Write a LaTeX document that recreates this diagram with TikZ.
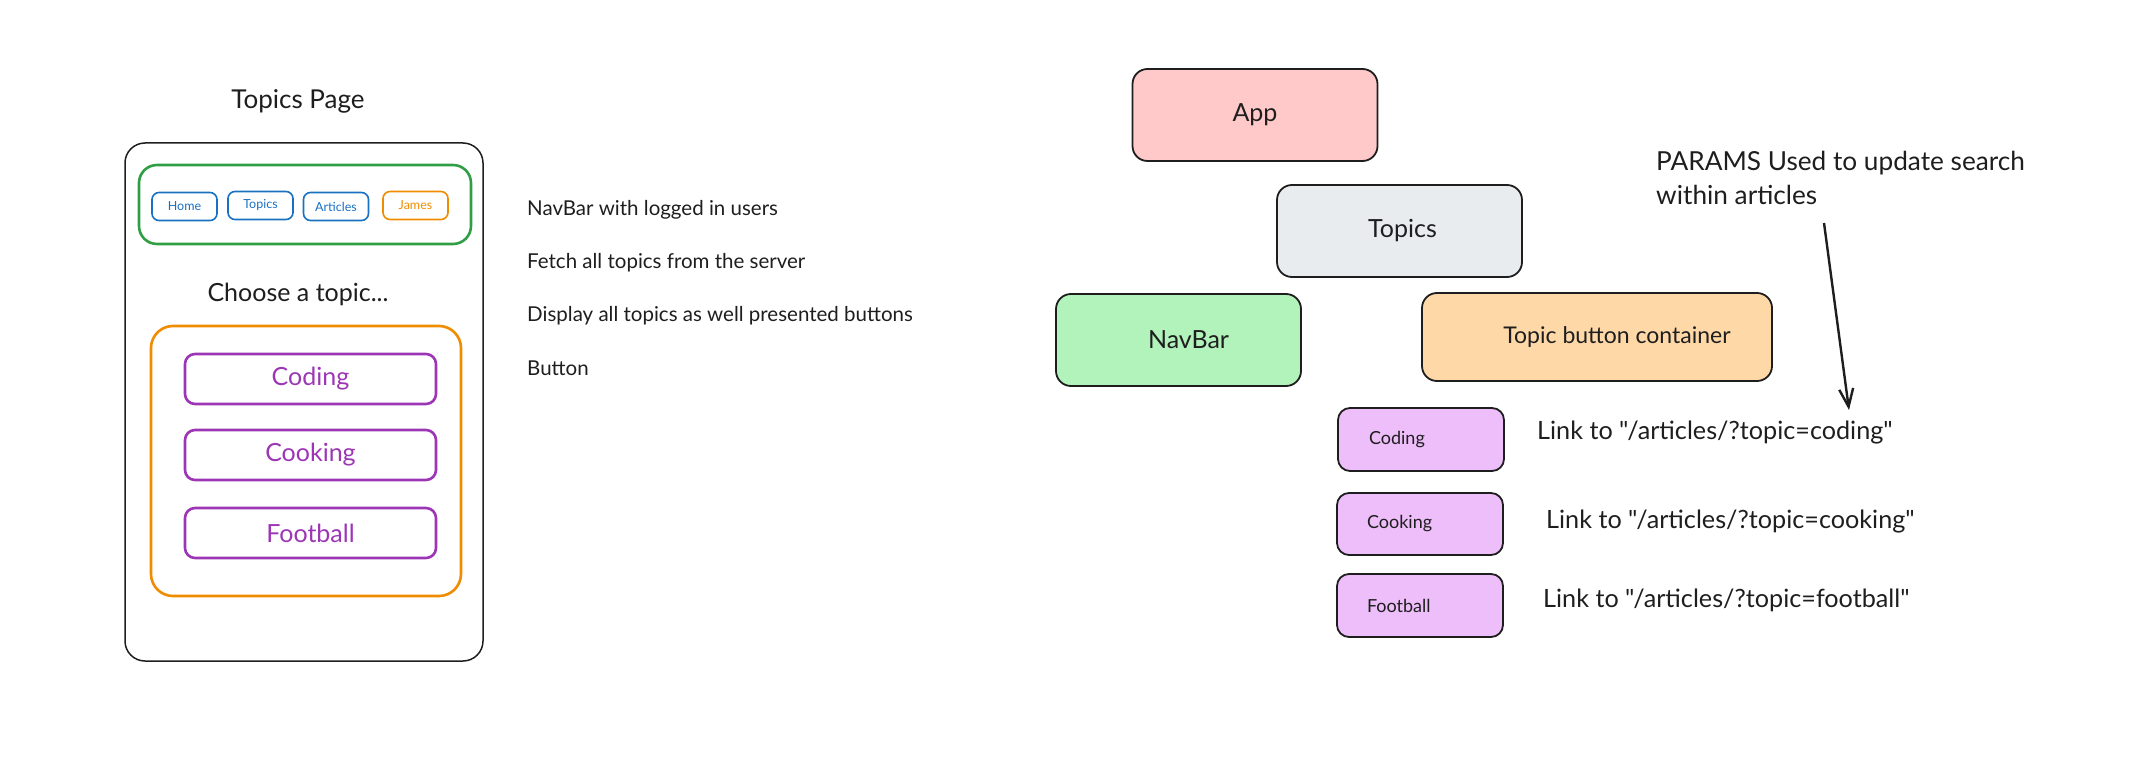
\documentclass[tikz,border=0pt]{standalone}
\usepackage{fontspec}
\setmainfont{Lato}[Ligatures=TeXOff]
\usetikzlibrary{arrows.meta}
\definecolor{ink}{HTML}{1E1E1E}
\definecolor{xgreen}{HTML}{2F9E44}
\definecolor{xblue}{HTML}{1971C2}
\definecolor{xorange}{HTML}{F08C00}
\definecolor{xpurple}{HTML}{9C36B5}
\definecolor{fillred}{HTML}{FFC9C9}
\definecolor{fillgray}{HTML}{E9ECEF}
\definecolor{fillgreen}{HTML}{B2F2BB}
\definecolor{fillorange}{HTML}{FFD8A8}
\definecolor{fillpurple}{HTML}{EEBEFA}
\tikzset{
  frame/.style={draw=ink, line width=1.5pt, rounded corners=20pt, inner sep=0pt},
  colbox/.style={draw=#1, line width=2.6pt, rounded corners=18pt, inner sep=0pt},
  navbtn/.style={draw=#1, text=#1, line width=1.6pt, rounded corners=7pt, inner sep=0pt,
    minimum width=65pt, minimum height=28pt, font=\fontsize{12.5}{14}\selectfont},
  topicbtn/.style={draw=xpurple, text=xpurple, line width=2.6pt, rounded corners=10pt, inner sep=0pt,
    minimum width=251pt, minimum height=50pt, font=\fontsize{25}{29}\selectfont},
  note/.style={anchor=west, inner sep=0pt, text=ink, font=\fontsize{20.5}{24}\selectfont},
  comp/.style={draw=ink, fill=#1, line width=1.8pt, rounded corners=15pt, inner sep=0pt,
    text=ink, minimum width=245pt, minimum height=92pt, font=\fontsize{25}{29}\selectfont},
  small/.style={draw=ink, fill=fillpurple, line width=1.8pt, rounded corners=12pt,
    inner xsep=31pt, inner ysep=0pt, text width=104pt, align=left, minimum height=62pt,
    text=ink, font=\fontsize{18}{21}\selectfont},
  link/.style={anchor=west, inner sep=0pt, text=ink, font=\fontsize{25.2}{29}\selectfont},
}
\begin{document}
\begin{tikzpicture}[x=1pt,y=-1pt]
\useasboundingbox (0,0) rectangle (2155,759);
% ---------- left: page mock-up ----------
\node[inner sep=0pt, text=ink, font=\fontsize{26}{30}\selectfont] (title) at (298,101) {Topics Page};
\node[frame, minimum width=358pt, minimum height=518pt] (page) at (304,402) {};
\node[colbox=xgreen, minimum width=332pt, minimum height=79pt] (navbox) at (305,204.5) {};
\node[navbtn=xblue] (home) at (184.5,206.5) {Home};
\node[navbtn=xblue] (topicsbtn) at (260.5,205.5) {Topics};
\node[navbtn=xblue] (articles) at (336,206.5) {Articles};
\node[navbtn=xorange] (james) at (415.5,205.5) {James};
\node[inner sep=0pt, text=ink, font=\fontsize{25}{29}\selectfont] (choose) at (298,294) {Choose a topic...};
\node[colbox=xorange, rounded corners=22pt, minimum width=310pt, minimum height=270pt] (container) at (306,461) {};
\node[topicbtn] (bcoding) at (310.5,379) {Coding};
\node[topicbtn] (bcooking) at (310.5,455) {Cooking};
\node[topicbtn] (bfootball) at (310.5,533) {Football};
% ---------- notes ----------
\node[note] (n1) at (527,210) {NavBar with logged in users};
\node[note] (n2) at (527,263) {Fetch all topics from the server};
\node[note] (n3) at (527,316) {Display all topics as well presented buttons};
\node[note] (n4) at (527,368) {Button};
% ---------- right: component tree ----------
\node[comp=fillred] (app) at (1255,115) {App};
\node[comp=fillgray] (topics) at (1399.5,231) {\hspace*{6pt}Topics};
\node[comp=fillgreen] (navbar) at (1178.5,340) {\hspace*{20pt}NavBar};
\node[comp=fillorange, minimum width=350pt, minimum height=88pt, font=\fontsize{23}{27}\selectfont] (tbc) at (1597,337) {\hspace*{40pt}Topic button container};
\node[small, minimum width=166pt, minimum height=63pt] (scoding) at (1421,439.5) {Coding};
\node[small, inner xsep=30pt, text width=106pt] (scooking) at (1420,524) {Cooking};
\node[small, inner xsep=30pt, text width=106pt, minimum height=63pt] (sfootball) at (1420,605.5) {Football};
\node[link] (lcoding) at (1537,433) {Link to "/articles/?topic=coding"};
\node[link] (lcooking) at (1546,522) {Link to "/articles/?topic=cooking"};
\node[link] (lfootball) at (1543,600) {Link to "/articles/?topic=football"};
\node[anchor=west, inner sep=0pt, align=left, text=ink, font=\fontsize{26.2}{34}\selectfont] (params) at (1656,178) {PARAMS Used to update search\\within articles};
\coordinate (arrowstart) at (1824,223);
\coordinate (arrowend) at (1849,410);
\draw[ink, line width=2.4pt, -{Straight Barb[length=18pt,width=14pt]}] (arrowstart) -- (arrowend);
\end{tikzpicture}
\end{document}
